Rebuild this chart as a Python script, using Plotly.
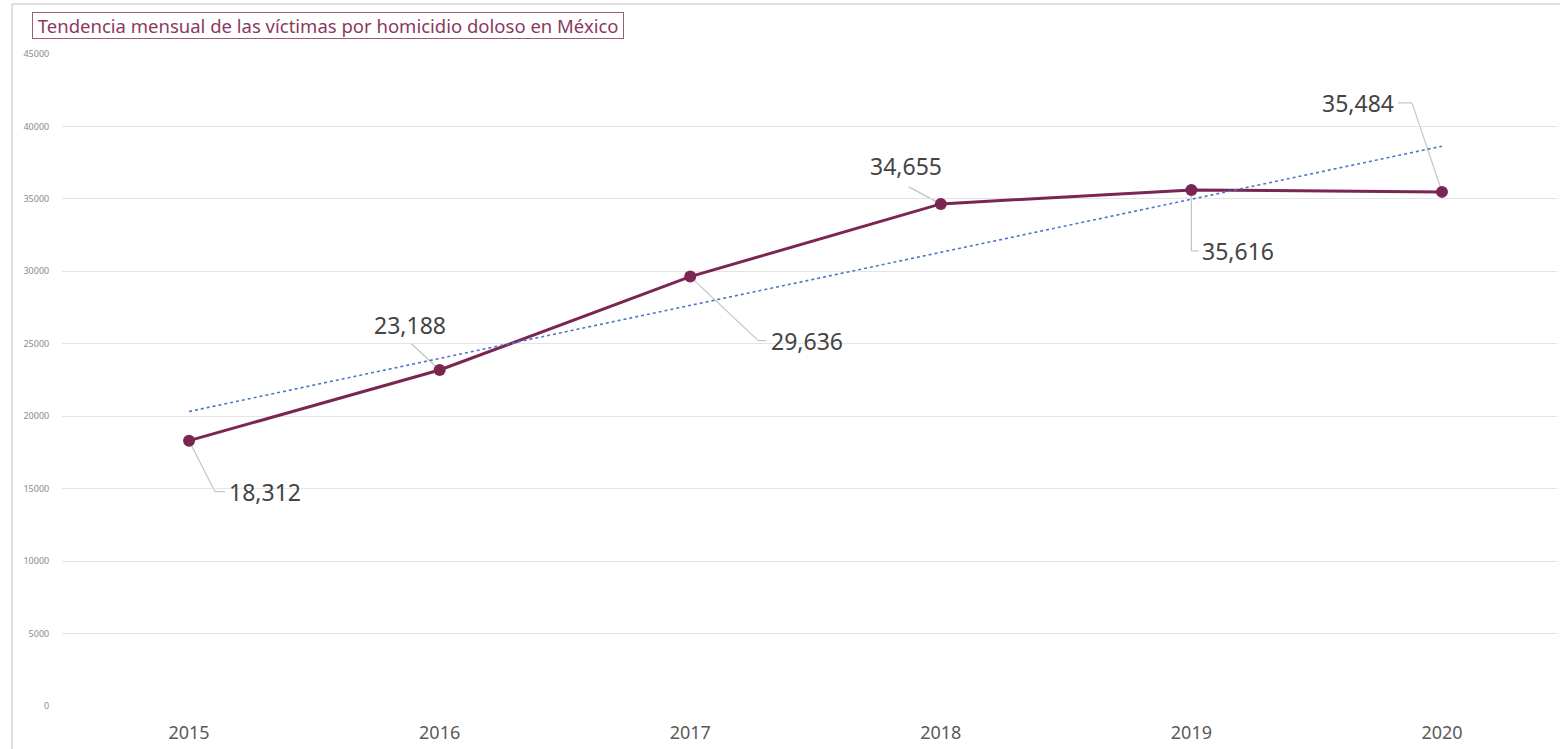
import numpy as np
import plotly.graph_objects as go

# Annual homicide victims
years = ["2015", "2016", "2017", "2018", "2019", "2020"]
victims = [18312, 23188, 29636, 34655, 35616, 35484]
y_ticks = [0, 5000, 10000, 15000, 20000, 25000, 30000, 35000, 40000, 45000]

LINE_COLOR = "#7b2552"
TREND_COLOR = "#4f74c8"
LEADER_COLOR = "#c4c4c4"
LABEL_FONT = "Noto Sans"

W, H = 1560, 749
M_L, M_R, M_T, M_B = 62, 3, 54, 43
PW, PH = W - M_L - M_R, H - M_T - M_B


def px_to_paper(px, py):
    """Figure pixel (from top-left) to paper coordinates."""
    return (px - M_L) / PW, 1 - (py - M_T) / PH


# Least-squares trend over the yearly series
idx = np.arange(len(victims))
slope, intercept = np.polyfit(idx, victims, 1)
trend = [intercept + slope * i for i in (idx[0], idx[-1])]

fig = go.Figure()

fig.add_trace(go.Scatter(
    x=years, y=victims, mode="lines+markers",
    line=dict(color=LINE_COLOR, width=3),
    marker=dict(color=LINE_COLOR, size=12),
    showlegend=False,
))

fig.add_trace(go.Scatter(
    x=[years[0], years[-1]], y=trend, mode="lines",
    line=dict(color=TREND_COLOR, width=1.6, dash="dot"),
    hoverinfo="skip", showlegend=False,
))

# Label placement per point: leader polyline (pixel offsets, +y up) and text anchor
label_layout = [
    dict(path=[(0, 0), (26, -51), (36, -51)], tx=38, ty=-51, anchor="left"),
    dict(path=[(0, 0), (-29, 27)], tx=-30, ty=45, anchor="center"),
    dict(path=[(0, 0), (68, -64), (76, -64)], tx=79, ty=-64, anchor="left"),
    dict(path=[(0, 0), (-32, 17)], tx=-35, ty=38, anchor="center"),
    dict(path=[(0, 0), (0, -61), (7, -61)], tx=9, ty=-61, anchor="left"),
    dict(path=[(0, 0), (-30, 89), (-44, 89)], tx=-46, ty=89, anchor="right"),
]

shapes = []
annotations = []
for i, (yr, val, lay) in enumerate(zip(years, victims, label_layout)):
    pts = lay["path"]
    for (x0, y0), (x1, y1) in zip(pts[:-1], pts[1:]):
        shapes.append(dict(
            type="line", xref="x", yref="y",
            xsizemode="pixel", ysizemode="pixel",
            xanchor=i, yanchor=val,
            x0=x0, x1=x1, y0=y0, y1=y1,
            line=dict(color=LEADER_COLOR, width=1.2),
            layer="below",
        ))
    annotations.append(dict(
        x=i, y=val, xref="x", yref="y",
        text=f"{val:,}", showarrow=False,
        xanchor=lay["anchor"], yanchor="middle",
        xshift=lay["tx"], yshift=lay["ty"],
        font=dict(family=LABEL_FONT, size=23, color="#444444"),
    ))

# Chart title in a framed box
tx, ty = px_to_paper(32, 12)
annotations.append(dict(
    x=tx, y=ty, xref="paper", yref="paper",
    text="&nbsp;Tendencia mensual de las víctimas por homicidio doloso en México&nbsp;",
    showarrow=False, xanchor="left", yanchor="top",
    font=dict(family=LABEL_FONT, size=18.5, color="#8a3a60"),
    bordercolor="#a05a7a", borderwidth=1, borderpad=0,
))

# Outer frame: top and left edges
fx0, fy0 = px_to_paper(12, 4)
fx1, fy1 = px_to_paper(W + 5, H + 5)
shapes.append(dict(type="line", xref="paper", yref="paper", x0=fx0, x1=fx1, y0=fy0, y1=fy0,
                   line=dict(color="#d6d6d6", width=1.5)))
shapes.append(dict(type="line", xref="paper", yref="paper", x0=fx0, x1=fx0, y0=fy0, y1=fy1,
                   line=dict(color="#d6d6d6", width=1.5)))

fig.update_layout(
    width=W, height=H,
    margin=dict(l=M_L, r=M_R, t=M_T, b=M_B),
    paper_bgcolor="white", plot_bgcolor="white",
    shapes=shapes, annotations=annotations,
    showlegend=False,
    xaxis=dict(
        type="category", categoryorder="array", categoryarray=years,
        range=[-0.507, 5.459],
        showgrid=False, zeroline=False, showline=False,
        tickfont=dict(family=LABEL_FONT, size=18, color="#5a5a5a"),
        ticks="outside", ticklen=10, tickcolor="rgba(0,0,0,0)",
    ),
    yaxis=dict(
        range=[0, 45000], tickvals=y_ticks,
        ticktext=[str(v) for v in y_ticks],
        showgrid=True, gridcolor="#e4e4e4", gridwidth=1,
        zeroline=False, showline=False,
        tickfont=dict(family=LABEL_FONT, size=9, color="#8a8a8a"),
        ticks="outside", ticklen=10, tickcolor="rgba(0,0,0,0)",
    ),
)

fig.write_html("out.html")
